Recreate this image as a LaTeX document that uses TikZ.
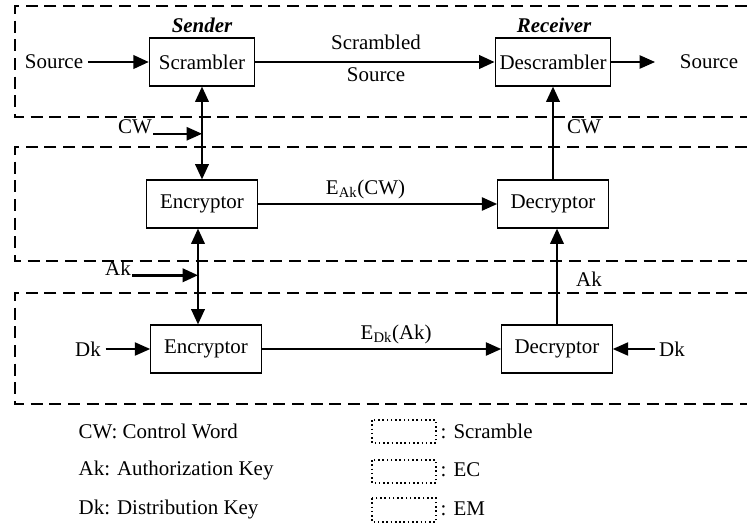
\documentclass[tikz,border=0pt]{standalone}
\usepackage{fontspec}
\setmainfont{Liberation Serif}
\usetikzlibrary{arrows.meta}

\begin{document}
\begin{tikzpicture}[x=0.75pt,y=-0.75pt,
		>={Triangle[length=11.5pt,width=10pt]},
		every node/.style={font=\fontsize{15.7}{18}\selectfont},
		block/.style={draw,line width=0.8pt,minimum width=83pt,minimum height=36pt},
		region/.style={line width=1.5pt,dash pattern=on 9pt off 5pt},
		legbox/.style={line width=1.2pt,dotted},
		lbl/.style={inner sep=1pt},
		bigarr/.style={line width=1.9pt},
		midarr/.style={line width=1.2pt},
		smallarr/.style={line width=0.9pt}]
			\useasboundingbox (0,0) rectangle (747,526);

			\draw[region](747,6) -- (15,6) -- (15,117) -- (747,117);
			\draw[region](747,147) -- (15,147) -- (15,261) -- (747,261);
			\draw[region](747,293) -- (15,293) -- (15,404) -- (747,404);

			\node at(202,25){\bfseries\itshape Sender};
			\node at(554,25){\bfseries\itshape Receiver};

			\node[block,minimum width=79pt] (scr) at(202,62){Scrambler};
			\node[block] (descr) at(553,62){Descrambler};
				\node (srcin) at(54,62){Source};
				\node (srcout) at(709,62){Source};
				\coordinate (outtip) at(655,62);
				\node (scrlbl) at(376,58)[align=center]{Scrambled\\[6pt]Source};
			\draw[bigarr,->](srcin.east) -- (scr.west);
			\draw[bigarr,->](scr.east) -- (descr.west);
			\draw[smallarr,->](descr.east) -- (outtip);

			\node[block] (enc1) at(202,204){Encryptor};
			\node[block] (dec1) at(553,204){Decryptor};
			\draw[midarr,->](enc1.east) -- node[above,xshift=-9pt]{E\textsubscript{Ak}(CW)} (dec1.west);
			\draw[bigarr,<->](scr.south) -- (scr.south |- enc1.north);
			\draw[bigarr,->](dec1.north) -- (descr.south);
				\node[lbl] (cw) at(135,127){CW};
				\node (cwr) at(584,127){CW};
			\draw[midarr,->](cw.base east) -- (cw.base east -| scr.south);

			\node[block] (enc2) at(206,349){Encryptor};
			\node[block] (dec2) at(557,349){Decryptor};
			\draw[midarr,->](enc2.east) -- node[above,xshift=11pt]{E\textsubscript{Dk}(Ak)} (dec2.west);
			\draw[bigarr,<->]([xshift=-3pt]enc1.south) -- ([xshift=-3pt]enc1.south |- enc2.north);
			\draw[bigarr,->](dec2.north) -- (dec2.north |- dec1.south);
				\node[lbl] (akl) at(118,268){Ak};
				\node (akr) at(589,279){Ak};
			\draw[bigarr,->](akl.base east) -- ([xshift=-3pt]akl.base east -| enc1.south);
				\node (dkl) at(88,349){Dk};
				\node (dkr) at(672,349){Dk};
			\draw[smallarr,->](dkl.east) -- (enc2.west);
			\draw[smallarr,->](dkr.west) -- (dec2.east);

			\node[anchor=west] at(74,431){CW: Control Word};
			\node[anchor=west] at(74,470){Ak: Authorization Key};
			\node[anchor=west] at(74,509){Dk: Distribution Key};

			\draw[legbox](372,420) rectangle (436,443);
			\draw[legbox](372,460) rectangle (436,483);
			\draw[legbox](372,498) rectangle (436,522);
			\node[anchor=west] at(436,431){: Scramble};
			\node[anchor=west] at(436,470){: EC};
			\node[anchor=west] at(436,509){: EM};
		\end{tikzpicture}
\end{document}
